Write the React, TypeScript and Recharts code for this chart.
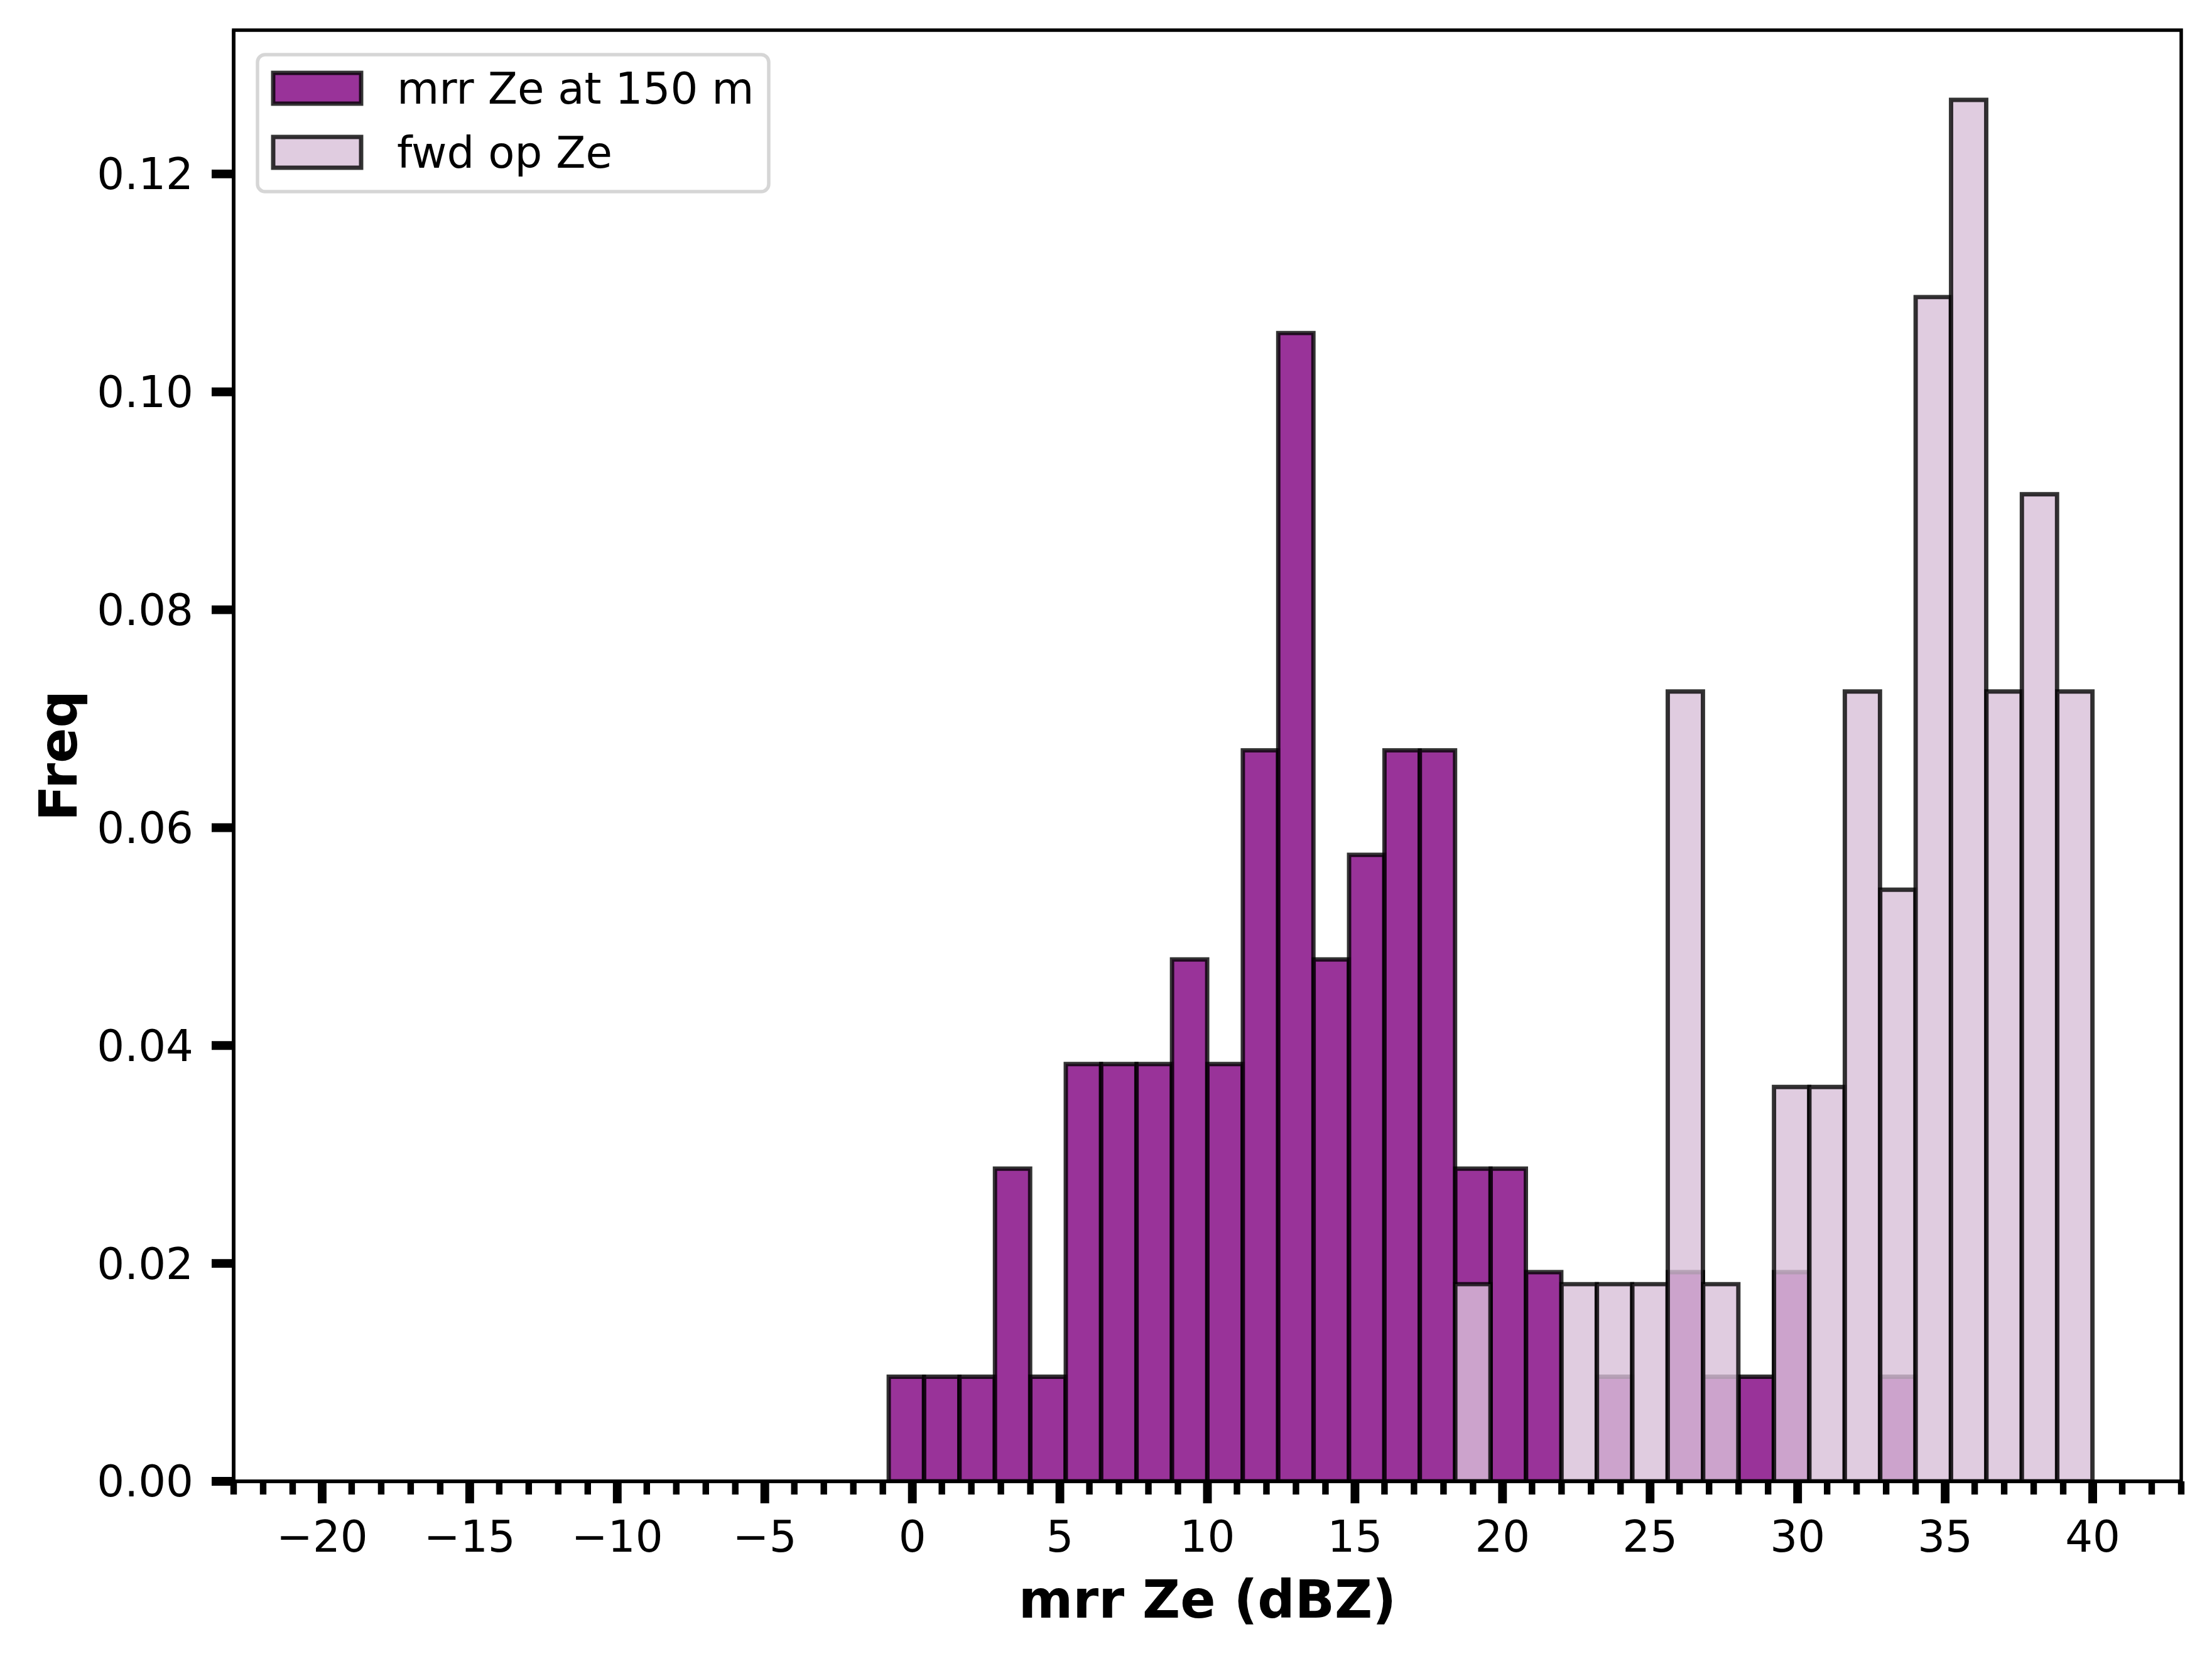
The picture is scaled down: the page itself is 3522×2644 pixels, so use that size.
import React from 'react'
import { ComposedChart, Bar, XAxis, YAxis, Legend, Label, ReferenceArea } from 'recharts'

// histogram bins are 1.2 dBZ wide, values are bin centres
const BIN_CENTERS = [
  -0.2, 1.0, 2.2, 3.4, 4.6, 5.8, 7.0, 8.2, 9.4, 10.6, 11.8, 13.0, 14.2, 15.4, 16.6, 17.8, 19.0,
  20.2, 21.4, 22.6, 23.8, 25.0, 26.2, 27.4, 28.6, 29.8, 31.0, 32.2, 33.4, 34.6, 35.8, 37.0, 38.2, 39.4,
]
const MRR_FREQ = [
  0.0096, 0.0096, 0.0096, 0.0287, 0.0096, 0.0383, 0.0383, 0.0383, 0.0479, 0.0383, 0.0671, 0.1054,
  0.0479, 0.0575, 0.0671, 0.0671, 0.0287, 0.0287, 0.0192, 0, 0.0096, 0, 0.0192, 0.0096, 0.0096,
  0.0192, 0, 0, 0.0096, 0, 0, 0, 0, 0,
]
const FWD_FREQ = [
  0, 0, 0, 0, 0, 0, 0, 0, 0, 0, 0, 0, 0, 0, 0, 0, 0.0181, 0, 0, 0.0181, 0.0181, 0.0181, 0.0725,
  0.0181, 0, 0.0362, 0.0362, 0.0725, 0.0543, 0.1087, 0.1268, 0.0725, 0.0906, 0.0725,
]
const X_MAJOR = [-20, -15, -10, -5, 0, 5, 10, 15, 20, 25, 30, 35, 40]
const Y_TICKS = [0, 0.02, 0.04, 0.06, 0.08, 0.1, 0.12]
const SERIES = [
  { key: 'mrr', name: 'mrr Ze at 150 m', color: '#800080' },
  { key: 'fwd', name: 'fwd op Ze', color: '#d8bfd8' },
]

const X_DOMAIN: [number, number] = [-23, 43]
const Y_DOMAIN: [number, number] = [0, 0.1332]
const X_ALL = Array.from({ length: 67 }, (_, i) => i - 23)
const FONT = 'DejaVu Sans'

const rows = BIN_CENTERS.map((x, i) => ({ x, mrr: MRR_FREQ[i], fwd: FWD_FREQ[i] }))

function fmtX(v: number) {
  return v < 0 ? `\u2212${Math.abs(v)}` : String(v)
}

function XTick(props: any) {
  const { x, y, payload } = props
  const major = X_MAJOR.includes(payload.value)
  return (
    <g>
      <line x1={x} x2={x} y1={y} y2={y + (major ? 35 : 21)} stroke="#000" strokeWidth={major ? 13.9 : 10.4} />
      {major && (
        <text x={x} y={y + 112} textAnchor="middle" fontSize={69} fontFamily={FONT} fill="#000">
          {fmtX(payload.value)}
        </text>
      )}
    </g>
  )
}

function LegendBox() {
  return (
    <svg width={1300} height={360} style={{ display: 'block' }}>
      <rect x={410} y={87} width={814} height={218} rx={12} fill="#fff" fillOpacity={0.8} stroke="#d6d6d6" strokeWidth={5.5} />
      {SERIES.map((s, i) => (
        <g key={s.key}>
          <rect x={435} y={116 + i * 102} width={140} height={49} fill={s.color} fillOpacity={0.8}
            stroke="#000" strokeOpacity={0.8} strokeWidth={6.9} />
          <text x={632} y={165 + i * 102} fontSize={69} fontFamily={FONT} fill="#000">{s.name}</text>
        </g>
      ))}
    </svg>
  )
}

export default function App() {
  return (
    <div style={{ position: 'absolute', left: 0, top: 0, width: 3522, height: 2644, background: '#fff' }}>
      <ComposedChart width={3522} height={2644} data={rows} barCategoryGap={0} barGap={0}
        margin={{ top: 48, right: 49, bottom: 0, left: 0 }}>
        <XAxis xAxisId="main" dataKey="x" type="number" domain={X_DOMAIN} allowDataOverflow
          ticks={X_ALL} interval={0} tickLine={false} tickSize={0} tickMargin={0} tick={<XTick />}
          height={286} axisLine={{ stroke: '#000', strokeWidth: 5.5 }}>
          <Label content={(p: any) => {
            const vb = p.viewBox
            return (
              <text x={vb.x + vb.width / 2} y={2575} textAnchor="middle" fontSize={83} fontWeight="bold" fontFamily={FONT} fill="#000">
                mrr Ze (dBZ)
              </text>
            )
          }} />
        </XAxis>
        <XAxis xAxisId="over" dataKey="x" type="number" domain={X_DOMAIN} allowDataOverflow hide />
        <YAxis yAxisId="left" type="number" domain={Y_DOMAIN} allowDataOverflow ticks={Y_TICKS} interval={0}
          width={372} tickSize={35} tickMargin={29} tickFormatter={(v: number) => v.toFixed(2)}
          tick={{ fontSize: 69, fontFamily: FONT, fill: '#000' }}
          tickLine={{ stroke: '#000', strokeWidth: 13.9 }} axisLine={{ stroke: '#000', strokeWidth: 5.5 }}>
          <Label content={(p: any) => {
            const vb = p.viewBox
            const cy = vb.y + vb.height / 2
            return (
              <text x={122} y={cy} transform={`rotate(-90 122 ${cy})`} textAnchor="middle" fontSize={83}
                fontWeight="bold" fontFamily={FONT} fill="#000">
                Freq
              </text>
            )
          }} />
        </YAxis>
        <Legend layout="horizontal" verticalAlign="middle" align="center" content={() => <LegendBox />}
          wrapperStyle={{ left: 0, top: 0, width: 1300, height: 360 }} />
        <Bar xAxisId="main" yAxisId="left" dataKey="mrr" name={SERIES[0].name} fill={SERIES[0].color}
          fillOpacity={0.8} stroke="#000" strokeOpacity={0.8} strokeWidth={6.9} isAnimationActive={false} />
        <Bar xAxisId="over" yAxisId="left" dataKey="fwd" name={SERIES[1].name} fill={SERIES[1].color}
          fillOpacity={0.8} stroke="#000" strokeOpacity={0.8} strokeWidth={6.9} isAnimationActive={false} />
        {/* axes frame (top and right spines) */}
        <ReferenceArea xAxisId="main" yAxisId="left" x1={X_DOMAIN[0]} x2={X_DOMAIN[1]} y1={Y_DOMAIN[0]} y2={Y_DOMAIN[1]}
          fill="none" fillOpacity={0} stroke="#000" strokeWidth={5.5} ifOverflow="visible" />
      </ComposedChart>
    </div>
  )
}
